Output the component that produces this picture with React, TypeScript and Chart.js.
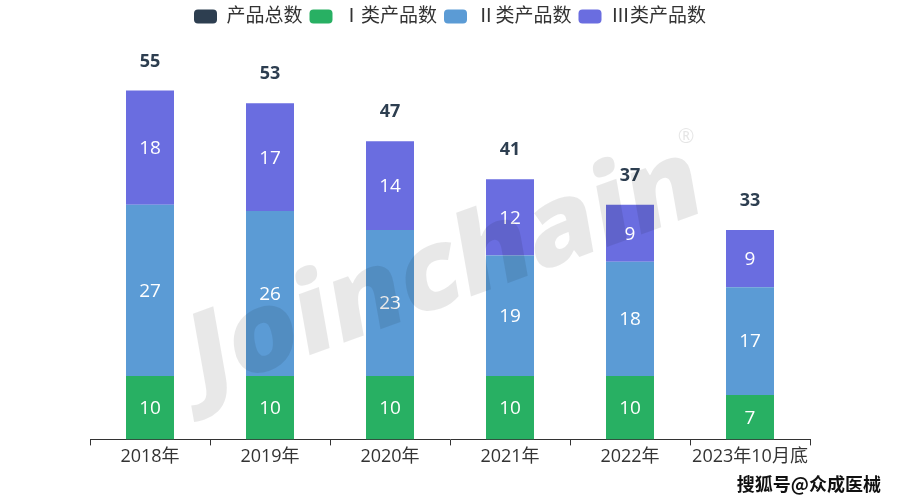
import React, { useEffect, useRef } from "react";
import { Chart, registerables } from "chart.js";

Chart.register(...registerables);

const categories = ["2018年", "2019年", "2020年", "2021年", "2022年", "2023年10月底"];
const class1 = [10, 10, 10, 10, 10, 7];
const class2 = [27, 26, 23, 19, 18, 17];
const class3 = [18, 17, 14, 12, 9, 9];
const totals = [55, 53, 47, 41, 37, 33];

const FONT = '"Open Sans", "Noto Sans CJK SC", sans-serif';

const labelPlugin = {
  id: "labels",
  afterDatasetsDraw(chart: any) {
    const ctx = chart.ctx;
    ctx.save();
    ctx.textAlign = "center";
    ctx.textBaseline = "middle";
    ctx.font = `19px ${FONT}`;
    ctx.fillStyle = "#ffffff";
    [1, 2, 3].forEach((di) => {
      const meta = chart.getDatasetMeta(di);
      meta.data.forEach((el: any, i: number) => {
        const v = chart.data.datasets[di].data[i];
        const cy = (el.y + el.base) / 2;
        ctx.fillText(String(v), el.x, cy + 1);
      });
    });
    const tmeta = chart.getDatasetMeta(0);
    ctx.font = `bold 18px ${FONT}`;
    ctx.fillStyle = "#2d3e50";
    tmeta.data.forEach((el: any, i: number) => {
      ctx.fillText(String(totals[i]), el.x, el.y - 29);
    });
    ctx.restore();
  },
  afterDraw(chart: any) {
    const ctx = chart.ctx;
    ctx.save();
    ctx.translate(446, 272);
    const a = (20 * Math.PI) / 180;
    const s = (10 * Math.PI) / 180;
    ctx.transform(Math.cos(a), -Math.sin(a), Math.sin(s), Math.cos(s), 0, 0);
    ctx.font = `800 112px ${FONT}`;
    ctx.fillStyle = "rgba(0,0,0,0.09)";
    ctx.textAlign = "center";
    ctx.textBaseline = "middle";
    ctx.fillText("Joinchain", 0, 0);
    ctx.restore();
    ctx.save();
    ctx.font = `20px ${FONT}`;
    ctx.fillStyle = "rgba(0,0,0,0.1)";
    ctx.textAlign = "center";
    ctx.textBaseline = "middle";
    ctx.fillText("®", 686, 137);
    ctx.restore();
    ctx.save();
    ctx.font = `bold 18px "Noto Sans CJK SC", sans-serif`;
    ctx.textAlign = "right";
    ctx.textBaseline = "middle";
    ctx.lineWidth = 3;
    ctx.strokeStyle = "#ffffff";
    ctx.strokeText("搜狐号@众成医械", 881, 484);
    ctx.fillStyle = "#111111";
    ctx.fillText("搜狐号@众成医械", 881, 484);
    ctx.restore();
  },
};

export default function App() {
  const ref = useRef<HTMLCanvasElement>(null);
  useEffect(() => {
    const chart = new Chart(ref.current!, {
      type: "bar",
      data: {
        labels: categories,
        datasets: [
          {
            type: "line",
            label: "产品总数",
            data: totals,
            stack: "total",
            backgroundColor: "#2d3e50",
            borderColor: "#2d3e50",
            borderWidth: 0,
            showLine: false,
            pointRadius: 0,
          } as any,
          { label: "Ⅰ类产品数", data: class1, backgroundColor: "#28b063", stack: "s" },
          { label: "Ⅱ类产品数", data: class2, backgroundColor: "#5b9bd5", stack: "s" },
          { label: "Ⅲ类产品数", data: class3, backgroundColor: "#6a6de0", stack: "s" },
        ],
      },
      options: {
        animation: false,
        responsive: false,
        layout: { padding: { left: 90, right: 90, top: 0, bottom: 31 } },
        datasets: { bar: { categoryPercentage: 1, barPercentage: 0.4 } },
        plugins: {
          legend: {
            position: "top",
            labels: {
              boxWidth: 23,
              boxHeight: 14,
              useBorderRadius: true,
              borderRadius: 4,
              color: "#333",
              font: { size: 19, family: FONT },
              padding: 7,
            },
          },
          tooltip: { enabled: false },
        },
        scales: {
          x: {
            stacked: true,
            offset: true,
            grid: { display: true, drawOnChartArea: false, tickLength: 6, color: "#333", offset: true },
            border: { display: true, color: "#333" },
            ticks: {
              color: "#333",
              font: { size: 18, family: FONT },
              padding: 1,
              maxRotation: 0,
              minRotation: 0,
              autoSkip: false,
            },
          },
          y: {
            stacked: true,
            display: false,
            min: 0,
            max: 63.6,
          },
        },
      },
      plugins: [labelPlugin],
    });
    return () => chart.destroy();
  }, []);
  return (
    <div style={{ position: "absolute", left: 0, top: 0, width: 900, height: 500, background: "#fff" }}>
      <canvas ref={ref} width={900} height={500} />
    </div>
  );
}
